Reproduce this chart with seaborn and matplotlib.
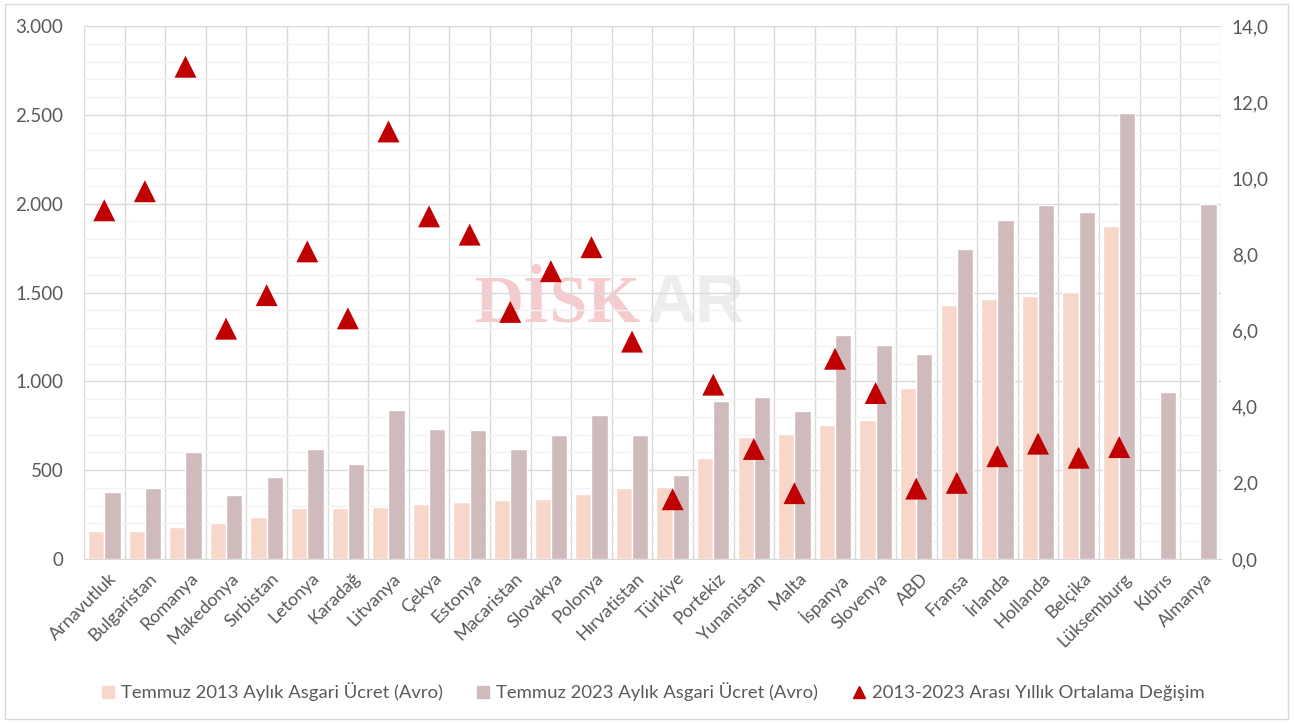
import numpy as np
import pandas as pd
import matplotlib
matplotlib.use('Agg')
import matplotlib.pyplot as plt
from matplotlib.ticker import MultipleLocator, FixedLocator, FuncFormatter
from matplotlib.lines import Line2D
from matplotlib.patches import Rectangle
import matplotlib.transforms as mtransforms
import seaborn as sns

# data
countries = ['Arnavutluk', 'Bulgaristan', 'Romanya', 'Makedonya', 'Sırbistan', 'Letonya',
             'Karadağ', 'Litvanya', 'Çekya', 'Estonya', 'Macaristan', 'Slovakya', 'Polonya',
             'Hırvatistan', 'Türkiye', 'Portekiz', 'Yunanistan', 'Malta', 'İspanya', 'Slovenya',
             'ABD', 'Fransa', 'İrlanda', 'Hollanda', 'Belçika', 'Lüksemburg', 'Kıbrıs', 'Almanya']
wage_2013 = [157, 159, 179, 201, 235, 285, 288, 290, 310, 320, 332, 338, 368, 400, 405, 566,
             684, 702, 753, 784, 962, 1430, 1462, 1478, 1502, 1874, np.nan, np.nan]
wage_2023 = [376, 398, 603, 359, 460, 620, 532, 840, 730, 725, 621, 700, 812, 700, 473, 887,
             910, 835, 1260, 1203, 1156, 1747, 1910, 1995, 1955, 2508, 940, 1998]
avg_change = [9.16, 9.66, 12.93, 6.05, 6.93, 8.08, 6.32, 11.23, 9.0, 8.52, 6.49, 7.56, 8.19,
              5.71, 1.57, 4.58, 2.89, 1.73, 5.26, 4.36, 1.85, 2.0, 2.70, 3.03, 2.66, 2.94,
              np.nan, np.nan]

s2013 = 'Temmuz 2013 Aylık Asgari Ücret (Avro)'
s2023 = 'Temmuz 2023 Aylık Asgari Ücret (Avro)'
s_chg = '2013-2023 Arası Yıllık Ortalama Değişim'

c2013 = '#F8D7CB'
c2023 = '#D0BBBC'
c_tri = '#C00000'
grey = '#595959'
gridc = '#D9D9D9'

bars = pd.DataFrame({'Ülke': countries * 2,
                     'Seri': [s2013] * len(countries) + [s2023] * len(countries),
                     'Değer': wage_2013 + wage_2023})
chg = pd.DataFrame({'pos': np.arange(len(countries)), 'Değişim': avg_change})

sns.set_style('white')
plt.rcParams['font.family'] = ['Lato', 'DejaVu Sans']

fig = plt.figure(figsize=(12.95, 7.22), dpi=100)
fig.patches.append(Rectangle((5 / 1295, 3 / 722), 1283 / 1295, 715 / 722, transform=fig.transFigure,
                             fill=False, edgecolor='#D9D9D9', linewidth=1))
ax = fig.add_axes([84 / 1295, 163 / 722, 1136.7 / 1295, 533 / 722])

sns.barplot(data=bars, x='Ülke', y='Değer', hue='Seri', order=countries,
            palette={s2013: c2013, s2023: c2023}, saturation=1, width=0.8,
            ax=ax, legend=False, zorder=2)

ax.set_xlim(-0.5, len(countries) - 0.5)
ax.set_ylim(0, 3000)
ax.yaxis.set_major_locator(MultipleLocator(500))
ax.yaxis.set_minor_locator(MultipleLocator(100))
ax.yaxis.set_major_formatter(FuncFormatter(lambda v, p: f'{int(v):,}'.replace(',', '.')))
ax.xaxis.set_minor_locator(FixedLocator(np.arange(-0.5, len(countries), 1)))
ax.set_axisbelow(True)
ax.yaxis.grid(True, which='minor', color='#F2F2F2', linewidth=1)
ax.yaxis.grid(True, which='major', color=gridc, linewidth=1)
ax.xaxis.grid(True, which='minor', color=gridc, linewidth=1)
ax.set_xlabel('')
ax.set_ylabel('')
for sp in ['top', 'right', 'left']:
    ax.spines[sp].set_visible(False)
ax.spines['bottom'].set_color(gridc)
ax.tick_params(axis='both', which='both', length=0)
ax.tick_params(axis='y', labelsize=13.5, labelcolor=grey, pad=15)
ax.set_xticks(range(len(countries)))
ax.set_xticklabels(countries, rotation=45, ha='right', rotation_mode='anchor',
                   fontsize=13, color=grey)
ax.tick_params(axis='x', pad=8)
shift = mtransforms.ScaledTranslation(4 / 100, 0, fig.dpi_scale_trans)
for lab in ax.get_xticklabels():
    lab.set_transform(lab.get_transform() + shift)

# watermark
ax.text(0.344, 0.4447, 'DİSK', transform=ax.transAxes, fontsize=49, fontweight='bold',
        family='Liberation Serif', color='#F6CBCE', zorder=0.2, va='baseline')
ax.text(0.495, 0.4447, 'AR', transform=ax.transAxes, fontsize=49, fontweight='bold',
        family='Liberation Sans', color='#EDEDED', zorder=0.2, va='baseline')

ax2 = ax.twinx()
sns.scatterplot(data=chg, x='pos', y='Değişim', marker='^', s=250, color=c_tri,
                edgecolor='none', ax=ax2, zorder=5)
ax2.set_ylim(0, 14)
ax2.yaxis.set_major_locator(MultipleLocator(2))
ax2.yaxis.set_major_formatter(FuncFormatter(lambda v, p: f'{v:.1f}'.replace('.', ',')))
ax2.set_ylabel('')
for sp in ax2.spines.values():
    sp.set_visible(False)
ax2.tick_params(axis='y', length=0, labelsize=13.5, labelcolor=grey, pad=8)
ax2.set_xlim(-0.5, len(countries) - 0.5)

handles = [Line2D([], [], marker='s', linestyle='none', markersize=9, color=c2013),
           Line2D([], [], marker='s', linestyle='none', markersize=9, color=c2023),
           Line2D([], [], marker='^', linestyle='none', markersize=9, color=c_tri)]
fig.legend(handles, [s2013, s2023, s_chg], loc='center', bbox_to_anchor=(0.503, 30 / 722),
           ncol=3, frameon=False, fontsize=13.3, labelcolor=grey, handletextpad=0.2,
           columnspacing=1.7, handlelength=1.0)

fig.savefig('out.png', dpi=100)
